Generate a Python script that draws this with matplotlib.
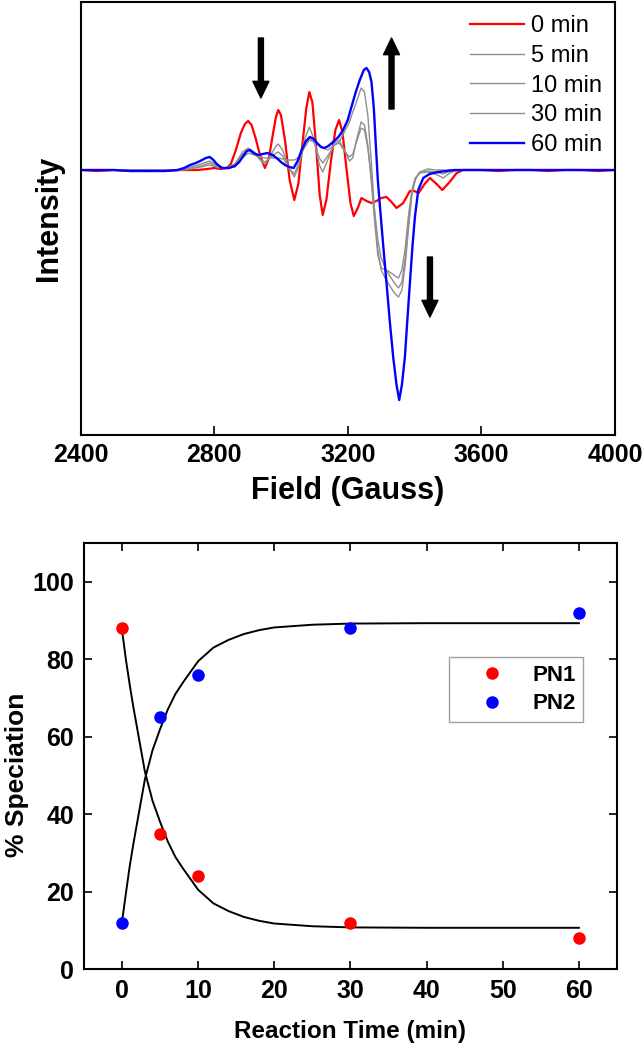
import matplotlib
matplotlib.use('Agg')
import matplotlib.pyplot as plt

plt.rcParams['font.family'] = ['Liberation Sans', 'DejaVu Sans']

# EPR spectra (field in Gauss, intensity in arbitrary units)
red_field = [2400, 2450, 2500, 2550, 2600, 2650, 2700, 2750, 2780, 2800, 2820, 2838, 2850, 2865, 2880, 2892, 2902, 2912, 2924, 2938,
             2952, 2964, 2976, 2985, 2992, 3000, 3012, 3026, 3040, 3052, 3064, 3076, 3085, 3094, 3105, 3116, 3125, 3136, 3150, 3163,
             3174, 3184, 3196, 3208, 3218, 3230, 3241, 3256, 3271, 3286, 3300, 3316, 3331, 3346, 3366, 3386, 3399, 3412, 3430, 3446,
             3466, 3483, 3505, 3526, 3545, 3600, 3650, 3700, 3750, 3800, 3850, 3900, 3950, 4000]
red_int = [0, -1, 0, -1, 0, -1, 0, 0, 1, 2, 1, 2, 6, 20, 37, 46, 49, 45, 32, 14,
           2, 12, 36, 53, 60, 55, 30, -10, -30, -14, 25, 62, 78, 68, 25, -25, -45, -30, 10, 40,
           50, 38, 2, -33, -46, -38, -28, -31, -33, -31, -28, -27, -32, -38, -33, -21, -21, -23, -14, -8,
           -14, -20, -12, -3, 0, 0, -1, 0, 0, -1, 0, 0, -1, 0]

blue_field = [2400, 2450, 2500, 2550, 2600, 2650, 2690, 2710, 2728, 2745, 2758, 2775, 2787, 2798, 2808, 2823, 2845, 2862, 2875, 2887,
              2898, 2907, 2918, 2932, 2946, 2960, 2975, 2987, 3000, 3012, 3025, 3038, 3050, 3062, 3075, 3087, 3098, 3108, 3120, 3130,
              3142, 3156, 3172, 3186, 3200, 3211, 3224, 3236, 3248, 3256, 3264, 3271, 3278, 3284, 3290, 3296, 3306, 3316, 3326, 3336,
              3346, 3354, 3362, 3371, 3378, 3386, 3394, 3401, 3411, 3426, 3445, 3470, 3496, 3520, 3560, 3600, 3650, 3700, 3750, 3800,
              3850, 3900, 3950, 4000]
blue_int = [0, 0, 0, -1, -1, -1, 0, 2, 5, 7, 9, 12, 13, 10, 6, 2, 2, 4, 8, 14,
            19, 20, 17, 15, 16, 17, 15, 12, 8, 5, 3, 2, 9, 20, 29, 33, 31, 27, 23, 22,
            24, 28, 33, 40, 50, 63, 78, 90, 100, 102, 98, 88, 62, 25, -10, -35, -75, -113, -152, -187,
            -215, -230, -215, -187, -152, -113, -75, -47, -20, -8, -4, -2, -1, 0, 0, 0, 0, 0, 0, 0,
            0, 0, 0, 0]

gray_field = [2400, 2500, 2600, 2700, 2730, 2760, 2787, 2808, 2830, 2862, 2885, 2902, 2920, 2940, 2952, 2970, 2985, 2992, 3005, 3020,
              3040, 3055, 3070, 3085, 3100, 3115, 3125, 3140, 3160, 3174, 3190, 3205, 3215, 3226, 3240, 3250, 3260, 3270, 3280, 3290,
              3300, 3315, 3330, 3342, 3352, 3362, 3372, 3382, 3392, 3402, 3415, 3440, 3462, 3486, 3505, 3530, 3600, 3700, 3800, 3900,
              4000]
gray_5 = [0, 0, 0, 0, 1, 3, 5, 3, 1, 6, 18, 22, 18, 9, 6, 15, 24, 26, 20, 5,
          -7, 5, 30, 43, 30, 5, -2, 10, 27, 30, 20, 9, 12, 30, 48, 45, 25, -10, -50, -85,
          -98, -100, -103, -106, -108, -100, -78, -45, -20, -8, -3, -2, -4, -8, -3, 0, 0, 0, 0, 0,
          0]
gray_10 = [0, 0, 0, 0, 2, 4, 7, 4, 2, 5, 16, 20, 16, 10, 8, 13, 17, 18, 14, 3,
           -4, 8, 25, 33, 27, 12, 7, 14, 25, 27, 19, 13, 16, 28, 42, 40, 22, -5, -40, -70,
           -88, -100, -108, -114, -118, -112, -88, -52, -22, -9, -3, -1, -2, -4, -1, 0, 0, 0, 0, 0,
           0]
gray_30 = [0, 0, 0, 0, 3, 6, 9, 5, 2, 3, 12, 17, 15, 13, 12, 12, 12, 12, 11, 10,
           10, 13, 22, 30, 28, 25, 22, 20, 25, 28, 38, 48, 58, 68, 82, 78, 55, 10, -40, -80,
           -100, -110, -118, -124, -127, -120, -95, -58, -25, -10, -2, 1, 0, 0, 0, 0, 0, 0, 0, 0,
           0]

spec_labels = ['0 min', '5 min', '10 min', '30 min', '60 min']
field_ticks = [2400, 2800, 3200, 3600, 4000]

# speciation vs time
time = [0, 5, 10, 30, 60]
pn1 = [88, 35, 24, 12, 8]
pn2 = [12, 65, 76, 88, 92]
fit_t = [0, 0.5, 1, 1.5, 2, 3, 4, 5, 6, 7, 8, 10, 12, 14, 16, 18, 20, 25, 30, 40, 50, 60]
pn1_fit = [87.5, 80, 73.5, 67.5, 62, 51, 43.5, 38, 33, 29, 26, 20.5, 17, 15, 13.5, 12.5, 11.8, 11.1, 10.8, 10.7, 10.7, 10.7]
pn2_fit = [12.3, 19.5, 26.5, 32.5, 38, 49, 56.5, 62, 67, 71, 74, 79.5, 83, 85, 86.5, 87.5, 88.2, 88.9, 89.2, 89.3, 89.3, 89.3]

fig = plt.figure(figsize=(6.44, 10.5), dpi=100)

# ---- top: EPR spectra
ax1 = fig.add_axes([0.125, 0.5857, 0.830, 0.4124])
gray = '#8f8f8f'
l0, = ax1.plot(red_field, red_int, color='#ff0000', lw=1.6)
l1, = ax1.plot(gray_field, gray_5, color=gray, lw=1.0)
l2, = ax1.plot(gray_field, gray_10, color=gray, lw=1.0)
l3, = ax1.plot(gray_field, gray_30, color=gray, lw=1.0)
l4, = ax1.plot(blue_field, blue_int, color='#0000ff', lw=1.7)

arrow = dict(facecolor='black', edgecolor='black', width=3.6, headwidth=11.5, headlength=12, shrink=0)
ax1.annotate('', xy=(2940, 72), xytext=(2940, 132), arrowprops=arrow)
ax1.annotate('', xy=(3331, 132), xytext=(3331, 61), arrowprops=arrow)
ax1.annotate('', xy=(3446, -147), xytext=(3446, -87), arrowprops=arrow)

ax1.set_xlim(2400, 4000)
ax1.set_ylim(-265, 168)
ax1.set_xticks(field_ticks)
ax1.set_yticks([])
ax1.tick_params(axis='x', direction='in', length=6.5, width=1.2, pad=6, labelsize=18)
for lab in ax1.get_xticklabels():
    lab.set_fontweight('bold')
for sp in ax1.spines.values():
    sp.set_linewidth(1.5)
ax1.set_xlabel('Field (Gauss)', fontsize=22, fontweight='bold', labelpad=6)
ax1.set_ylabel('Intensity', fontsize=22, fontweight='bold', labelpad=12)
ax1.legend([l0, l1, l2, l3, l4], spec_labels, loc='upper left', bbox_to_anchor=(0.728, 0.970),
           frameon=False, fontsize=17, handlelength=2.3, handletextpad=0.3, labelspacing=0.33,
           borderpad=0, borderaxespad=0)

# ---- bottom: speciation
ax2 = fig.add_axes([0.1304, 0.0769, 0.8276, 0.406])
ax2.plot(fit_t, pn1_fit, color='black', lw=1.4)
ax2.plot(fit_t, pn2_fit, color='black', lw=1.4)
ax2.plot(time, pn1, 'o', color='#ff0000', ms=8, label='PN1')
ax2.plot(time, pn2, 'o', color='#0000ff', ms=8, label='PN2')
ax2.set_xlim(-5, 65)
ax2.set_ylim(0, 110)
ax2.set_xticks([0, 10, 20, 30, 40, 50, 60])
ax2.set_yticks([0, 20, 40, 60, 80, 100])
ax2.tick_params(direction='in', length=6, width=1.2, pad=7, labelsize=18, top=True, right=True)
for lab in ax2.get_xticklabels() + ax2.get_yticklabels():
    lab.set_fontweight('bold')
for sp in ax2.spines.values():
    sp.set_linewidth(1.5)
ax2.set_xlabel('Reaction Time (min)', fontsize=17.5, fontweight='bold', labelpad=12)
ax2.set_ylabel('% Speciation', fontsize=19, fontweight='bold')
ax2.yaxis.set_label_coords(-0.103, 0.456)
leg = ax2.legend(loc='upper right', bbox_to_anchor=(0.937, 0.733), borderaxespad=0,
                 prop={'size': 16, 'weight': 'bold'}, handlelength=3.2, handletextpad=0.2,
                 fancybox=False, edgecolor='#888888', borderpad=0.35, labelspacing=0.35)
leg.get_frame().set_linewidth(1.0)

fig.savefig('out.png', dpi=100)
